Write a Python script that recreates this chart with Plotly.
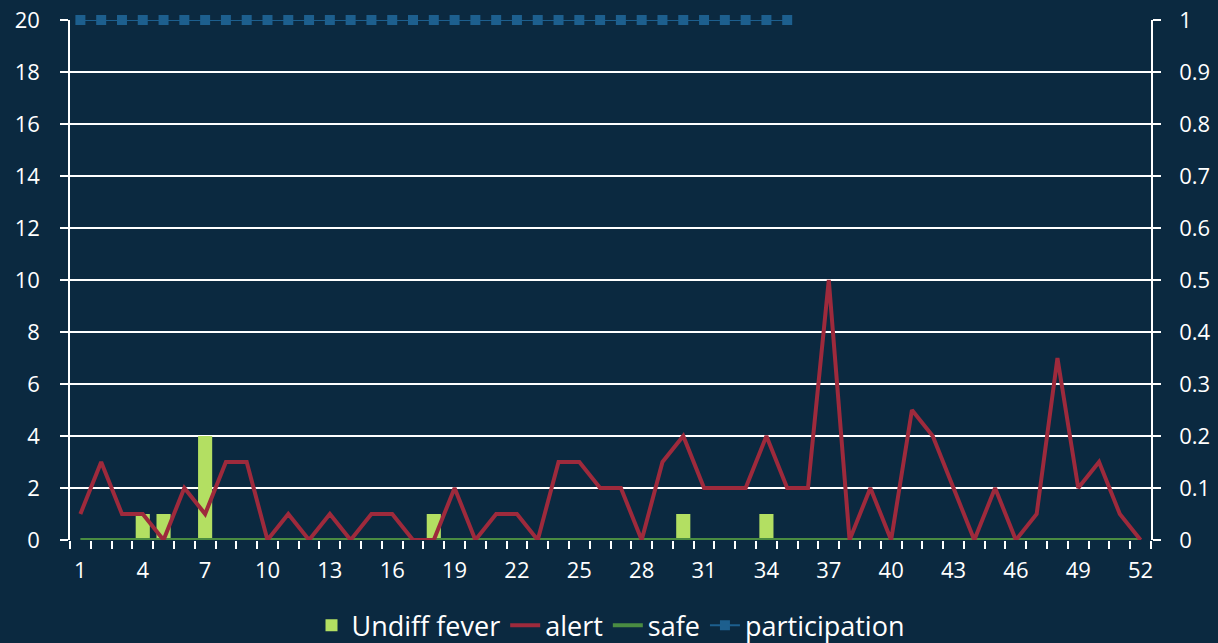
import plotly.graph_objects as go

weeks = list(range(1, 53))
undiff_fever = [0, 0, 0, 1, 1, 0, 4, 0, 0, 0, 0, 0, 0, 0, 0, 0, 0, 1, 0, 0,
                0, 0, 0, 0, 0, 0, 0, 0, 0, 1, 0, 0, 0, 1, 0, 0, 0, 0, 0, 0,
                0, 0, 0, 0, 0, 0, 0, 0, 0, 0, 0, 0]
alert = [1, 3, 1, 1, 0, 2, 1, 3, 3, 0, 1, 0, 1, 0, 1, 1, 0, 0, 2, 0,
         1, 1, 0, 3, 3, 2, 2, 0, 3, 4, 2, 2, 2, 4, 2, 2, 10, 0, 2, 0,
         5, 4, 2, 0, 2, 0, 1, 7, 2, 3, 1, 0]
safe = [0] * 52
part_weeks = list(range(1, 36))
participation = [1] * 35
x_tickvals = list(range(1, 53, 3))
x_ticktext = [str(v) for v in x_tickvals]
y_tickvals = list(range(0, 21, 2))
y2_tickvals = [i / 10 for i in range(0, 11)]
y2_ticktext = ["0", "0.1", "0.2", "0.3", "0.4", "0.5", "0.6", "0.7", "0.8", "0.9", "1"]

BG = "#0b2940"
FONT = "Open Sans"

fig = go.Figure()
fig.add_trace(go.Bar(x=weeks, y=undiff_fever, name="Undiff fever", legendrank=1,
                     marker=dict(color="#b3df62", line=dict(width=0)), width=0.68))
fig.add_trace(go.Scatter(x=weeks, y=safe, name="safe", mode="lines", cliponaxis=False,
                         line=dict(color="#4a8c42", width=4), legendrank=3))
fig.add_trace(go.Scatter(x=weeks, y=alert, name="alert", mode="lines", cliponaxis=False,
                         line=dict(color="#9e2a3c", width=4), legendrank=2))
fig.add_trace(go.Scatter(x=part_weeks, y=participation, name="participation",
                         mode="lines+markers", yaxis="y2", cliponaxis=False,
                         line=dict(color="#1d5f8e", width=2), legendrank=4,
                         marker=dict(symbol="square", size=10, color="#1d5f8e")))

fig.update_layout(
    width=1218, height=643,
    paper_bgcolor=BG, plot_bgcolor=BG,
    margin=dict(l=70, r=67, t=20, b=103, autoexpand=False),
    font=dict(family=FONT, color="white", size=22),
    showlegend=True,
    legend=dict(orientation="h", x=0.5, xanchor="center", y=-0.165, yanchor="middle",
                font=dict(size=27, color="white"), bgcolor="rgba(0,0,0,0)",
                tracegroupgap=0, traceorder="normal"),
    xaxis=dict(range=[0.5, 52.5], tickmode="array", tickvals=x_tickvals,
               ticktext=x_ticktext, ticks="", showgrid=False, zeroline=False,
               showline=False, layer="below traces",
               ticklabelstandoff=15,
               tickfont=dict(size=22, color="white"),
               minor=dict(tick0=0.5, dtick=1, ticks="outside", ticklen=8,
                          tickcolor="white", tickwidth=1.5, showgrid=False)),
    yaxis=dict(range=[0, 20], tickmode="array", tickvals=y_tickvals,
               showgrid=True, gridcolor="white", gridwidth=1.5, zeroline=False,
               showline=True, linecolor="white", linewidth=1.5, layer="below traces",
               ticks="outside", ticklen=8, tickcolor="white", tickwidth=1.5,
               ticklabelstandoff=16,
               tickfont=dict(size=22, color="white")),
    yaxis2=dict(range=[0, 1], overlaying="y", side="right", tickmode="array",
                tickvals=y2_tickvals, ticktext=y2_ticktext, showgrid=False,
                zeroline=False, showline=True, linecolor="white", linewidth=1.5,
                layer="below traces",
                ticks="outside", ticklen=8, tickcolor="white", tickwidth=1.5,
                ticklabelstandoff=14,
                tickfont=dict(size=22, color="white")),
)

fig.write_html("out.html", config={"displayModeBar": False},
               post_script="document.body.style.margin='0';")
